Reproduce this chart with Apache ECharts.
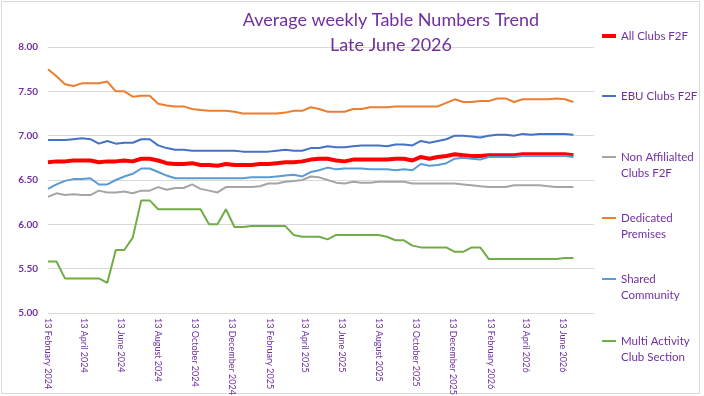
<!DOCTYPE html>
<html>
<head>
<meta charset="utf-8">
<script src="https://cdn.jsdelivr.net/npm/echarts@6/dist/echarts.min.js"></script>
<style>
html, body { margin: 0; padding: 0; background: #fff; }
#main { width: 704px; height: 396px; }
</style>
</head>
<body>
<div id="main"></div>
<script>
// fortnightly readings, first one on 13 Feb 2024
var firstDate = '2024-02-13';
var stepDays = 14;
var axisEndDate = '2026-08-03';
var tickDates = ['2024-02-13', '2024-04-13', '2024-06-13', '2024-08-13', '2024-10-13', '2024-12-13',
    '2025-02-13', '2025-04-13', '2025-06-13', '2025-08-13', '2025-10-13', '2025-12-13',
    '2026-02-13', '2026-04-13', '2026-06-13'];
var monthNames = ['January', 'February', 'March', 'April', 'May', 'June', 'July',
    'August', 'September', 'October', 'November', 'December'];

var seriesNames = ['All Clubs F2F', 'EBU Clubs F2F', 'Non Affilialted\nClubs F2F',
    'Dedicated\nPremises', 'Shared\nCommunity', 'Multi Activity\nClub Section'];

var allClubs = [6.70, 6.71, 6.71, 6.72, 6.72, 6.72, 6.70, 6.71, 6.71, 6.72, 6.71, 6.74, 6.74, 6.72, 6.69, 6.68,
    6.68, 6.69, 6.67, 6.67, 6.66, 6.68, 6.67, 6.67, 6.67, 6.68, 6.68, 6.69, 6.70, 6.70, 6.71, 6.73,
    6.74, 6.74, 6.72, 6.71, 6.73, 6.73, 6.73, 6.73, 6.73, 6.74, 6.74, 6.72, 6.76, 6.74, 6.76, 6.77,
    6.79, 6.78, 6.77, 6.77, 6.78, 6.78, 6.78, 6.78, 6.79, 6.79, 6.79, 6.79, 6.79, 6.79, 6.78];
var ebuClubs = [6.95, 6.95, 6.95, 6.96, 6.97, 6.96, 6.91, 6.94, 6.91, 6.92, 6.92, 6.96, 6.96, 6.89, 6.86, 6.84,
    6.84, 6.83, 6.83, 6.83, 6.83, 6.83, 6.83, 6.82, 6.82, 6.82, 6.82, 6.83, 6.84, 6.83, 6.83, 6.86,
    6.86, 6.88, 6.87, 6.87, 6.88, 6.89, 6.89, 6.89, 6.88, 6.90, 6.90, 6.89, 6.94, 6.92, 6.94, 6.96,
    7.00, 7.00, 6.99, 6.98, 7.00, 7.01, 7.01, 7.00, 7.02, 7.01, 7.02, 7.02, 7.02, 7.02, 7.01];
var nonAffiliated = [6.31, 6.35, 6.33, 6.34, 6.33, 6.33, 6.38, 6.36, 6.36, 6.37, 6.35, 6.38, 6.38, 6.42, 6.39, 6.41,
    6.41, 6.45, 6.40, 6.38, 6.36, 6.42, 6.42, 6.42, 6.42, 6.43, 6.46, 6.46, 6.48, 6.49, 6.50, 6.54,
    6.53, 6.50, 6.47, 6.46, 6.48, 6.47, 6.47, 6.48, 6.48, 6.48, 6.48, 6.46, 6.46, 6.46, 6.46, 6.46,
    6.46, 6.45, 6.44, 6.43, 6.42, 6.42, 6.42, 6.44, 6.44, 6.44, 6.44, 6.43, 6.42, 6.42, 6.42];
var dedicated = [7.75, 7.67, 7.58, 7.56, 7.59, 7.59, 7.59, 7.61, 7.50, 7.50, 7.44, 7.45, 7.45, 7.36, 7.34, 7.33,
    7.33, 7.30, 7.29, 7.28, 7.28, 7.28, 7.27, 7.25, 7.25, 7.25, 7.25, 7.25, 7.26, 7.28, 7.28, 7.32,
    7.30, 7.27, 7.27, 7.27, 7.30, 7.30, 7.32, 7.32, 7.32, 7.33, 7.33, 7.33, 7.33, 7.33, 7.33, 7.37,
    7.41, 7.38, 7.38, 7.39, 7.39, 7.42, 7.42, 7.38, 7.41, 7.41, 7.41, 7.41, 7.42, 7.41, 7.38];
var sharedCommunity = [6.40, 6.45, 6.49, 6.51, 6.51, 6.52, 6.45, 6.45, 6.50, 6.54, 6.57, 6.63, 6.63, 6.59, 6.55, 6.52,
    6.52, 6.52, 6.52, 6.52, 6.52, 6.52, 6.52, 6.52, 6.53, 6.53, 6.53, 6.54, 6.55, 6.56, 6.54, 6.59,
    6.61, 6.64, 6.62, 6.63, 6.63, 6.63, 6.62, 6.62, 6.62, 6.61, 6.62, 6.61, 6.68, 6.66, 6.67, 6.69,
    6.74, 6.75, 6.74, 6.73, 6.76, 6.76, 6.76, 6.76, 6.77, 6.77, 6.77, 6.77, 6.77, 6.77, 6.76];
var multiActivity = [5.58, 5.58, 5.39, 5.39, 5.39, 5.39, 5.39, 5.34, 5.71, 5.71, 5.85, 6.27, 6.27, 6.17, 6.17, 6.17,
    6.17, 6.17, 6.17, 6.00, 6.00, 6.17, 5.97, 5.97, 5.98, 5.98, 5.98, 5.98, 5.98, 5.88, 5.86, 5.86,
    5.86, 5.83, 5.88, 5.88, 5.88, 5.88, 5.88, 5.88, 5.86, 5.82, 5.82, 5.76, 5.74, 5.74, 5.74, 5.74,
    5.69, 5.69, 5.74, 5.74, 5.61, 5.61, 5.61, 5.61, 5.61, 5.61, 5.61, 5.61, 5.61, 5.62, 5.62];

var colors = ['#FF0000', '#4472C4', '#A5A5A5', '#ED7D31', '#5B9BD5', '#70AD47'];
var purple = '#7030A0';
var font = 'Lato';

function dayOf(s) {
    return (Date.parse(s) - Date.parse(firstDate)) / 86400000;
}
function dateLabel(v) {
    var d = new Date(Date.parse(firstDate) + v * 86400000);
    return d.getUTCDate() + ' ' + monthNames[d.getUTCMonth()] + ' ' + d.getUTCFullYear();
}

var myChart = echarts.init(document.getElementById('main'));

var allSeries = [allClubs, ebuClubs, nonAffiliated, dedicated, sharedCommunity, multiActivity];
var series = allSeries.map(function (vals, k) {
    return {
        name: seriesNames[k],
        type: 'line',
        symbol: 'none',
        color: colors[k],
        lineStyle: { width: k === 0 ? 4 : 2, color: colors[k] },
        data: vals.map(function (v, i) {
            return [i * stepDays, v];
        })
    };
});

// one legend per entry so each sits at its own height
var legendTops = [28, 88, 133, 194, 255, 317];
var legends = seriesNames.map(function (n, k) {
    var twoLines = n.indexOf('\n') >= 0;
    return {
        data: [n],
        left: 602,
        top: legendTops[k],
        orient: 'vertical',
        padding: 0,
        icon: 'rect',
        itemWidth: 14,
        itemHeight: k === 0 ? 4 : 2,
        // blank first line keeps the marker level with the first text line
        formatter: function (name) {
            return twoLines ? '\n' + name : name;
        },
        textStyle: {
            color: purple,
            fontFamily: font,
            fontSize: 11.5,
            lineHeight: 16
        }
    };
});

var option = {
    animation: false,
    title: {
        text: 'Average weekly Table Numbers Trend\nLate June 2026',
        left: 391,
        top: 8,
        padding: 0,
        textAlign: 'center',
        textStyle: {
            color: purple,
            fontFamily: font,
            fontSize: 18,
            fontWeight: 'normal',
            lineHeight: 25
        }
    },
    legend: legends,
    grid: { left: 48, right: 110, top: 47, bottom: 83, outerBoundsMode: 'none' },
    xAxis: {
        type: 'value',
        min: 0,
        max: dayOf(axisEndDate),
        splitLine: { show: false },
        axisLine: { show: false },
        axisTick: { show: false },
        axisLabel: {
            customValues: tickDates.map(dayOf),
            formatter: dateLabel,
            rotate: -90,
            margin: 5,
            color: purple,
            fontFamily: font,
            fontSize: 9
        }
    },
    yAxis: {
        type: 'value',
        min: 5,
        max: 8,
        interval: 0.5,
        axisLine: { show: false },
        axisTick: { show: false },
        splitLine: { lineStyle: { color: '#D9D9D9', width: 1 } },
        axisLabel: {
            margin: 10,
            color: purple,
            fontFamily: font,
            fontSize: 10,
            fontWeight: 'bold',
            formatter: function (v) { return v.toFixed(2); }
        }
    },
    graphic: [{
        type: 'rect',
        shape: { x: 1.5, y: 1.5, width: 698, height: 392 },
        style: { fill: 'none', stroke: '#D9D9D9', lineWidth: 1 },
        silent: true
    }],
    series: series
};
myChart.setOption(option);
</script>
</body>
</html>
